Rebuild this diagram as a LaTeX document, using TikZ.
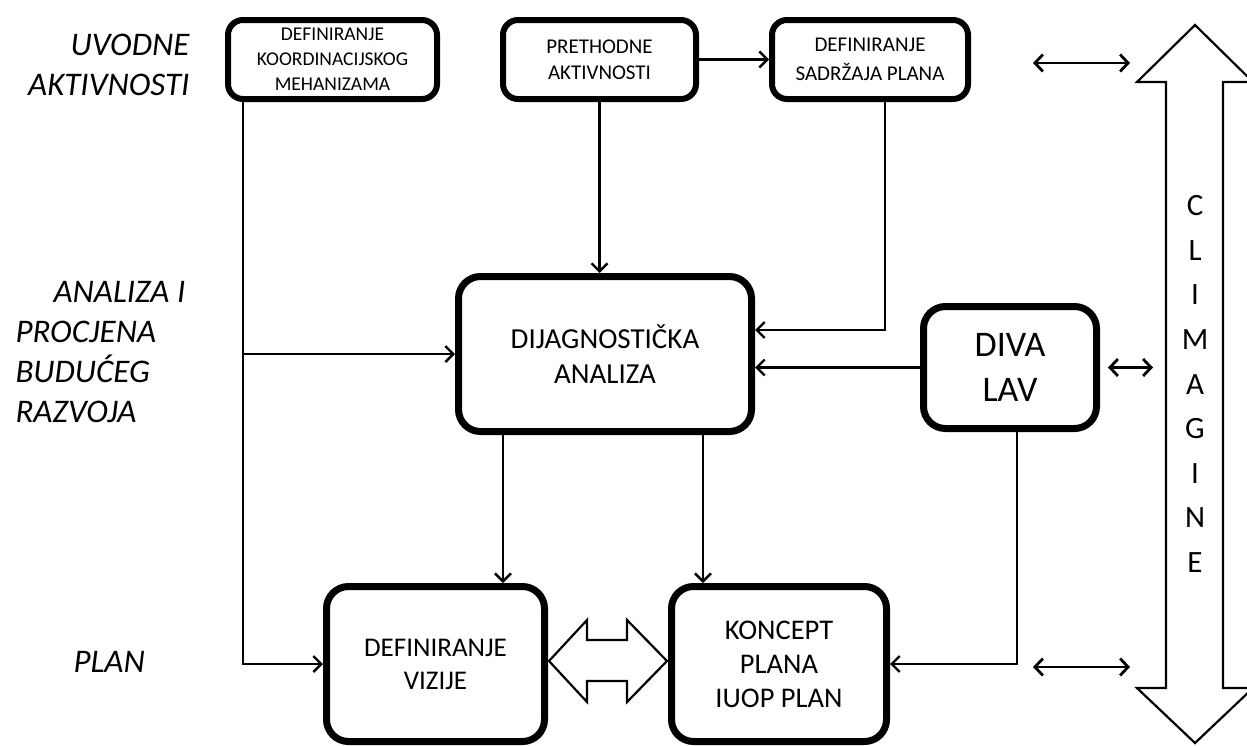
\documentclass[tikz,border=0pt]{standalone}
\usepackage{fontspec}
\setmainfont{Carlito}
\usetikzlibrary{arrows.meta}
\begin{document}
\begin{tikzpicture}[x=1pt,y=-1pt,
  conn/.style={line width=2.4pt, -{Straight Barb[length=8pt,width=16pt]}},
  dbl/.style={line width=2.8pt, {Straight Barb[length=8pt,width=17pt]}-{Straight Barb[length=8pt,width=17pt]}},
  sbox/.style={draw, line width=6pt, rounded corners=15pt, inner sep=0pt, align=center},
  bbox/.style={draw, line width=7pt, rounded corners=22pt, inner sep=0pt, align=center},
  lbl/.style={font=\fontsize{33}{40}\selectfont\itshape},
  hollow/.style={draw, line width=2.2pt, line join=miter, fill=white}]
\useasboundingbox (0,0) rectangle (1247,745);
\fill[white] (0,0) rectangle (1247,745);

% left labels
\node[lbl, align=right, anchor=east] (l1) at (193,65) {UVODNE\\AKTIVNOSTI};
\node[lbl, align=left, anchor=west] (l2) at (12,352) {\hspace*{38pt}ANALIZA I\\PROCJENA\\BUDUĆEG\\RAZVOJA};
\node[lbl, anchor=west] (l3) at (70,662) {PLAN};

% top boxes
\node[sbox, minimum width=209pt, minimum height=79pt, font=\fontsize{19.5}{25}\selectfont] (A) at (332.5,59.5) {DEFINIRANJE\\KOORDINACIJSKOG\\MEHANIZAMA};
\node[sbox, minimum width=193pt, minimum height=79pt, font=\fontsize{21}{26}\selectfont] (B) at (599.5,59.5) {PRETHODNE\\AKTIVNOSTI};
\node[sbox, minimum width=196pt, minimum height=79pt, font=\fontsize{21}{29}\selectfont] (C) at (870,59.5) {DEFINIRANJE\\SADRŽAJA PLANA};

% middle boxes
\node[bbox, minimum width=293pt, minimum height=155pt, font=\fontsize{29}{35}\selectfont] (D) at (605,354) {DIJAGNOSTIČKA\\ANALIZA};
\node[bbox, minimum width=173pt, minimum height=122pt, font=\fontsize{36}{45}\selectfont] (E) at (1010,367.5) {DIVA\\LAV};

% bottom boxes
\node[bbox, minimum width=218pt, minimum height=155pt, font=\fontsize{27}{33}\selectfont] (F) at (435.5,664) {DEFINIRANJE\\VIZIJE};
\node[bbox, minimum width=215pt, minimum height=155pt, font=\fontsize{28.5}{34}\selectfont] (G) at (779,664) {KONCEPT\\PLANA\\IUOP PLAN};

% helper coordinates
\coordinate (ax) at (243,0);
\coordinate (cx) at (885,0);
\coordinate (cy) at (0,330);
\coordinate (dfx) at (503,0);
\coordinate (dgx) at (703,0);
\coordinate (ex) at (1017,0);

% connectors
\draw[conn] (A.south -| ax) |- (F.west);
\draw[conn] (ax |- D.west) -- (D.west);
\draw[conn] (B.south) -- (B.south |- D.north);
\draw[conn] (B.east) -- (C.west);
\draw[conn] (C.south -| cx) |- (D.east |- cy);
\draw[conn] (E.west) -- (E.west -| D.east);
\draw[conn] (D.south -| dfx) -- (F.north -| dfx);
\draw[conn] (D.south -| dgx) -- (G.north -| dgx);
\draw[conn] (E.south -| ex) |- (G.east);

% hollow double arrow between F and G
\draw[hollow] (549,661) -- (587,620) -- (587,640) -- (627,640) -- (627,620) -- (667,661)
  -- (627,702) -- (627,681) -- (587,681) -- (587,702) -- cycle;

% big vertical double arrow
\draw[hollow] (1166,82) -- (1137,82) -- (1195,25) -- (1253,82) -- (1223,82) -- (1223,688)
  -- (1253,688) -- (1195,743) -- (1137,688) -- (1166,688) -- cycle;
\node[font=\fontsize{31}{44.6}\selectfont, align=center, anchor=north] (cl) at (1195,192)
  {C\\L\\I\\M\\A\\G\\I\\N\\E};

% thin double arrows
\coordinate (t1) at (1033,63);
\coordinate (t2) at (1130,63);
\coordinate (m2) at (1153,366);
\coordinate (b1) at (1033,667);
\coordinate (b2) at (1130,667);
\draw[dbl] (t1) -- (t2);
\draw[dbl] ([xshift=8pt]E.east) -- (m2 |- E.east);
\draw[dbl] (b1) -- (b2);
\end{tikzpicture}
\end{document}
